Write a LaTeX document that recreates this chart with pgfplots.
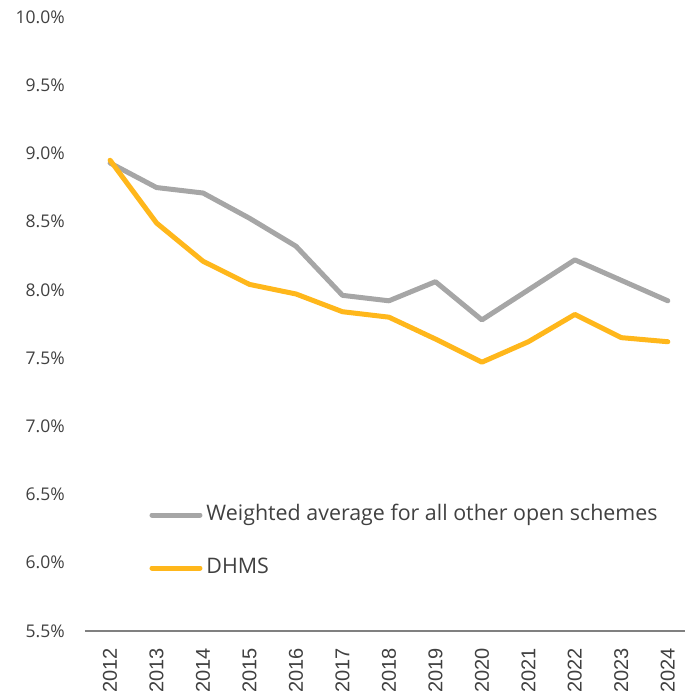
\documentclass[border=0pt]{standalone}
\usepackage{fontspec}
\setmainfont{Open Sans}
\newfontfamily\arialfont{Liberation Sans}
\usepackage{pgfplots}
\pgfplotsset{compat=1.18}
\definecolor{greyline}{HTML}{A6A6A6}
\definecolor{dhms}{HTML}{FFB71B}
\definecolor{axisgrey}{HTML}{808080}
\definecolor{textgrey}{HTML}{404040}
\begin{document}
\begin{tikzpicture}
\begin{axis}[
  name=ax,
  scale only axis,
  width=600bp, height=614bp,
  xmin=2011.46, xmax=2024.37,
  ymin=5.5, ymax=10,
  axis x line*=bottom, axis y line*=left,
  y axis line style={draw=none},
  x axis line style={draw=axisgrey, line width=1.5bp, -},
  major tick length=0pt,
  xtick={2012,2013,2014,2015,2016,2017,2018,2019,2020,2021,2022,2023,2024},
  xticklabels={2012,2013,2014,2015,2016,2017,2018,2019,2020,2021,2022,2023,2024},
  xticklabel style={rotate=90, anchor=east, inner sep=0pt, font=\arialfont\fontsize{20bp}{24bp}\selectfont, text=textgrey},
  xticklabel shift=17bp,
  ytick={5.5,6,6.5,7,7.5,8,8.5,9,9.5,10},
  yticklabels={5.5\%,6.0\%,6.5\%,7.0\%,7.5\%,8.0\%,8.5\%,9.0\%,9.5\%,10.0\%},
  yticklabel style={anchor=east, inner sep=0pt, font=\fontsize{17.5bp}{21bp}\selectfont, text=textgrey},
  yticklabel shift=20bp,
  clip=false,
  legend cell align=left,
  legend style={draw=none, fill=none, at={(axis description cs:0.1075,0.2052)}, anchor=north west,
    inner sep=0pt, outer sep=0pt, font=\fontsize{21.4bp}{25bp}\selectfont, text=textgrey,
    row sep=33bp, column sep=4bp,
    nodes={inner sep=0pt, text height=15bp, text depth=5bp, anchor=west}},
  legend image code/.code={\draw[#1, line width=5bp, line cap=round] (0bp,0bp) -- (48bp,0bp);},
]
\addplot[greyline, line width=5bp, line join=round, line cap=round] coordinates {
(2012,8.93) (2013,8.75) (2014,8.71) (2015,8.525) (2016,8.32) (2017,7.96) (2018,7.92)
(2019,8.06) (2020,7.78) (2021,8.00) (2022,8.22) (2023,8.07) (2024,7.92)};
\addlegendentry{Weighted average for all other open schemes}
\addplot[dhms, line width=5bp, line join=round, line cap=round] coordinates {
(2012,8.95) (2013,8.49) (2014,8.21) (2015,8.04) (2016,7.97) (2017,7.84) (2018,7.80)
(2019,7.64) (2020,7.47) (2021,7.62) (2022,7.82) (2023,7.65) (2024,7.62)};
\addlegendentry{DHMS}
\end{axis}
\path ([xshift=-85bp,yshift=-67bp]ax.south west) rectangle ([yshift=17bp]ax.north east);
\end{tikzpicture}
\end{document}
